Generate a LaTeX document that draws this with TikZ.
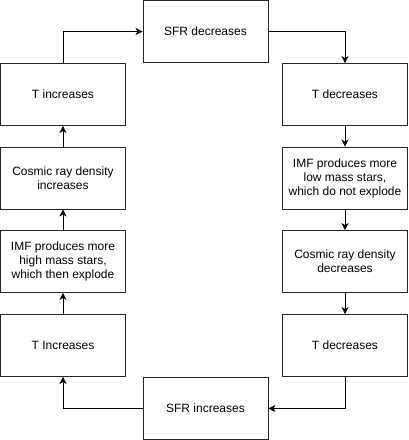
\documentclass[tikz,border=0pt]{standalone}
\usepackage{fontspec}
\setmainfont{Liberation Sans}
\usetikzlibrary{arrows.meta}
\begin{document}
\begin{tikzpicture}[x=1pt,y=-1pt,
  box/.style={draw=black!85,line width=0.9pt,minimum width=125pt,minimum height=62pt,inner sep=0pt,align=center,font=\fontsize{12}{14}\selectfont},
  conn/.style={draw=black,line width=0.8pt,-{Stealth[length=7pt,width=7pt,inset=2pt]}}]
\useasboundingbox (0,0) rectangle (408,440);
\node[box] (sfrd) at (205.5,31.5) {SFR decreases};
\node[box] (tinc1) at (63,94.5) {T increases};
\node[box] (crinc) at (63,178) {Cosmic ray density\\increases};
\node[box] (imfh) at (63,261.5) {IMF produces more\\high mass stars,\\which then explode};
\node[box] (tinc2) at (63,345.5) {T Increases};
\node[box] (tdec1) at (345,94.5) {T decreases};
\node[box] (imfl) at (345,178) {IMF produces more\\low mass stars,\\which do not explode};
\node[box] (crdec) at (345,261.5) {Cosmic ray density\\decreases};
\node[box] (tdec2) at (345,345.5) {T decreases};
\node[box] (sfri) at (205.5,408.5) {SFR increases};
\draw[conn] (tinc1.north) |- (sfrd.west);
\draw[conn] (sfrd.east) -| (tdec1.north);
\draw[conn] (tdec1) -- (imfl);
\draw[conn] (imfl) -- (crdec);
\draw[conn] (crdec) -- (tdec2);
\draw[conn] (tdec2.south) |- (sfri.east);
\draw[conn] (sfri.west) -| (tinc2.south);
\draw[conn] (tinc2) -- (imfh);
\draw[conn] (imfh) -- (crinc);
\draw[conn] (crinc) -- (tinc1);
\end{tikzpicture}
\end{document}
